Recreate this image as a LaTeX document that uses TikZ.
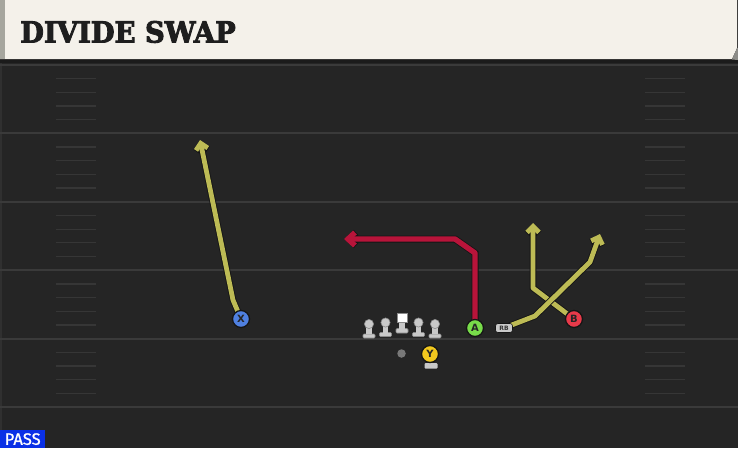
\documentclass[tikz,border=0pt]{standalone}
\usepackage{fontspec}
\newfontfamily\titlefont{DejaVu Serif}[BoldFeatures={FakeBold=3}]
\newfontfamily\labelfont{DejaVu Sans}
\newfontfamily\passfont{Fira Sans}[UprightFeatures={FakeBold=1}]
\usetikzlibrary{arrows.meta}
\definecolor{fieldbg}{HTML}{252525}
\definecolor{fieldedge}{HTML}{303030}
\definecolor{headershadow}{HTML}{1B1B1B}
\definecolor{curlgray}{HTML}{8C8C88}
\definecolor{titleblack}{HTML}{1E1E1E}
\definecolor{ballgray}{HTML}{787878}
\definecolor{rbtext}{HTML}{333333}
\definecolor{yardline}{HTML}{3A3A3A}
\definecolor{hashline}{HTML}{363636}
\definecolor{headercream}{HTML}{F4F1EA}
\definecolor{headerbar}{HTML}{A6A69E}
\definecolor{routeyellow}{HTML}{BDBB55}
\definecolor{routered}{HTML}{B8143A}
\definecolor{routeedge}{HTML}{151515}
\definecolor{lmgray}{HTML}{C9C9C9}
\definecolor{lmedge}{HTML}{8A8A8A}
\definecolor{xblue}{HTML}{4F80E0}
\definecolor{agreen}{HTML}{78DC4A}
\definecolor{bred}{HTML}{E83A4A}
\definecolor{yyellow}{HTML}{F2C81E}
\definecolor{passblue}{HTML}{0A30E6}
\pgfdeclarelayer{field}
\pgfdeclarelayer{routes}
\pgfsetlayers{field,routes,main}
\tikzset{
  yardstyle/.style={draw=yardline, line width=2pt},
  hashstyle/.style={draw=hashline, line width=1.3pt},
  player/.style={circle, minimum size=17pt, inner sep=0pt, draw=routeedge, line width=1.3pt,
    font=\labelfont\bfseries\fontsize{10}{10}\selectfont, text=black!85},
  yroute/.style={draw=routeyellow, line width=4.8pt, line join=round,
    -{Straight Barb[length=6pt,width=12pt,line cap=butt]},
    preaction={draw=routeedge, line width=6.6pt, -{Straight Barb[length=6pt,width=12pt]}}},
  rroute/.style={draw=routered, line width=5.4pt, line join=round,
    -{Straight Barb[length=7pt,width=13pt,line cap=butt]},
    preaction={draw=routeedge, line width=7pt, -{Straight Barb[length=7pt,width=13pt]}}},
  lineman/.pic={
    \fill[lmgray, draw=lmedge, line width=0.6pt, rounded corners=1pt] (-6,-4) rectangle (6,0);
    \fill[lmgray] (-2.6,-11) rectangle (2.6,-4);
    \fill[lmgray, draw=lmedge, line width=0.6pt] (0,-14) circle[radius=4.6pt];
  },
  centerman/.pic={
    \fill[lmgray, draw=lmedge, line width=0.6pt, rounded corners=1pt] (-6,-4.5) rectangle (6,0);
    \fill[lmgray] (-2.6,-11) rectangle (2.6,-4.5);
    \fill[white, draw=lmedge, line width=0.6pt] (-4.8,-19.5) rectangle (4.8,-11);
  }
}
\begin{document}
\begin{tikzpicture}[x=1pt,y=-1pt]
\useasboundingbox (0,0) rectangle (738,448);
\begin{pgfonlayer}{field}
  \fill[fieldbg] (0,0) rectangle (738,448);
  \fill[fieldedge] (0,60) rectangle (2,448);
  \foreach \k in {0,...,5} {
    \draw[yardstyle] (0,{65+68.4*\k}) -- (738,{65+68.4*\k});
  }
  \foreach \k in {0,...,4} {
    \foreach \j in {1,...,4} {
      \draw[hashstyle] (56,{65+68.4*\k+13.68*\j}) -- (96,{65+68.4*\k+13.68*\j});
      \draw[hashstyle] (645,{65+68.4*\k+13.68*\j}) -- (685,{65+68.4*\k+13.68*\j});
    }
  }
  % header
  \fill[headershadow] (0,58) rectangle (738,63);
  \fill[headercream] (0,0) -- (737,0) -- (737,48) -- (732,59) -- (0,59) -- cycle;
  \fill[curlgray] (737,48) -- (738,48) -- (738,60) -- (732,59.5) -- cycle;
  \fill[headerbar] (0,0) rectangle (5,59);
\end{pgfonlayer}

\node[anchor=base west, inner sep=0pt, text=titleblack, xscale=0.945, transform shape,
  font=\titlefont\bfseries\fontsize{29}{29}\selectfont] (title) at (20,42.5) {DIVIDE SWAP};

% offensive line
\pic at (369,338) {lineman};
\pic at (385.5,336.5) {lineman};
\pic at (402,333) {centerman};
\pic at (418.5,336.5) {lineman};
\pic at (435,338) {lineman};

% ball
\node[circle, fill=ballgray, minimum size=8.5pt, inner sep=0pt] (ball) at (401.5,353.5) {};

% Y pedestal and players
\fill[lmgray, rounded corners=1pt] (424.5,363) rectangle (437.5,368.5);
\node[player, fill=xblue] (X) at (241,319) {X};
\node[player, fill=agreen] (A) at (475,328) {A};
\node[player, fill=bred] (B) at (574,319) {B};
\node[player, fill=yyellow] (Y) at (430,354) {Y};
\node[draw=routeedge, line width=0.6pt, fill=lmgray, rounded corners=2.5pt, minimum width=17pt, minimum height=9pt,
  inner sep=0pt, font=\labelfont\bfseries\fontsize{6}{6}\selectfont, text=rbtext] (RB) at (504,328) {RB};

% route points
\coordinate (xb) at (233,300);
\coordinate (xt) at (200,140);
\coordinate (a1) at (475,253);
\coordinate (a2) at (455,239);
\coordinate (at) at (344,239);
\coordinate (b1) at (533,288);
\coordinate (bt) at (533,223);
\coordinate (r1) at (535,316);
\coordinate (r2) at (590,262);
\coordinate (rt) at (600,234);

\begin{pgfonlayer}{routes}
  \draw[yroute] (X.center) -- (xb) -- (xt);
  \draw[rroute] (A.center) -- (a1) -- (a2) -- (at);
  \draw[yroute] (B.center) -- (b1) -- (bt);
  \draw[yroute] (RB.center) -- (r1) -- (r2) -- (rt);
\end{pgfonlayer}

% play type
\node[fill=passblue, text=white, anchor=south west, minimum width=45pt, inner xsep=0pt, inner ysep=3pt,
  text height=11.8pt, text depth=0pt, font=\passfont\fontsize{16.5}{16.5}\selectfont] (pass) at (0,448) {PASS};
\end{tikzpicture}
\end{document}
